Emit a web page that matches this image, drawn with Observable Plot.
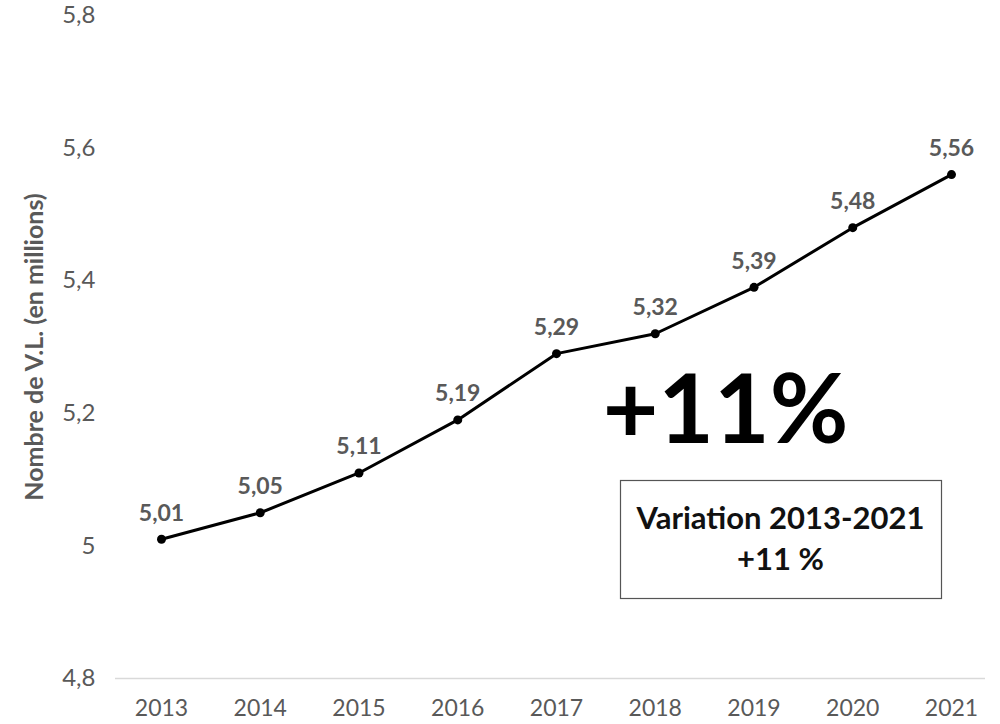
<!DOCTYPE html>
<html><head><meta charset="utf-8">
<script src="https://cdn.jsdelivr.net/npm/d3@7"></script>
<script src="https://cdn.jsdelivr.net/npm/@observablehq/plot@0.6"></script>
<style>body{margin:0;background:#fff;font-family:Lato,"Open Sans",sans-serif}</style>
</head><body><div id="chart"></div>
<script>
const years = [2013, 2014, 2015, 2016, 2017, 2018, 2019, 2020, 2021];
const values = [5.01, 5.05, 5.11, 5.19, 5.29, 5.32, 5.39, 5.48, 5.56];
const yTicks = [4.8, 5.0, 5.2, 5.4, 5.6, 5.8];
const yLabel = "Nombre de V.L. (en millions)";
const bigNote = "+11%";
const boxLines = ["Variation 2013-2021", "+11 %"];

const data = years.map((y, i) => ({year: y, value: values[i]}));
const fr = v => String(v).replace(".", ",");
const gray = "#595959";
const note = {frameAnchor: "top-left", textAnchor: "middle", lineAnchor: "middle", fontWeight: "bold"};

const chart = Plot.plot({
  width: 1000, height: 724,
  marginLeft: 161, marginRight: 49, marginTop: 15, marginBottom: 46,
  style: {fontFamily: "Lato, 'Open Sans', sans-serif", background: "#fff"},
  x: {domain: [2013, 2021], label: null},
  y: {domain: [4.8, 5.8], label: null},
  marks: [
    Plot.ruleY([4.8], {stroke: "#d9d9d9", strokeWidth: 1.5, insetLeft: -46, insetRight: -34}),
    Plot.axisX({ticks: years, tickFormat: d => String(d), tickSize: 0, tickPadding: 21, fontSize: 23, fill: gray, label: null}),
    Plot.axisY({ticks: yTicks, tickFormat: fr, tickSize: 0, tickPadding: 66, fontSize: 24, fill: gray, label: null}),
    Plot.line(data, {x: "year", y: "value", stroke: "#000", strokeWidth: 3}),
    Plot.dot(data, {x: "year", y: "value", r: 4.5, fill: "#000"}),
    Plot.text(data, {x: "year", y: "value", text: d => fr(d.value), dy: -26, fontSize: 23, fontWeight: "bold", fill: gray}),
    Plot.text([yLabel], {frameAnchor: "left", textAnchor: "middle", text: d => d, rotate: -90, dx: -127, dy: 0, fontSize: 25, fontWeight: "bold", fill: gray}),
    Plot.text([bigNote], {...note, text: d => d, dx: 564, dy: 397, fontSize: 96, fill: "#000"}),
    Plot.frame({stroke: "#555", strokeWidth: 1.2, insetLeft: 459, insetRight: 10, insetTop: 465, insetBottom: 80}),
    Plot.text([boxLines[0]], {...note, text: d => d, dx: 619, dy: 504, fontSize: 31, fill: "#111"}),
    Plot.text([boxLines[1]], {...note, text: d => d, dx: 619, dy: 545, fontSize: 31, fill: "#111"})
  ]
});
document.getElementById("chart").appendChild(chart);
</script></body></html>
